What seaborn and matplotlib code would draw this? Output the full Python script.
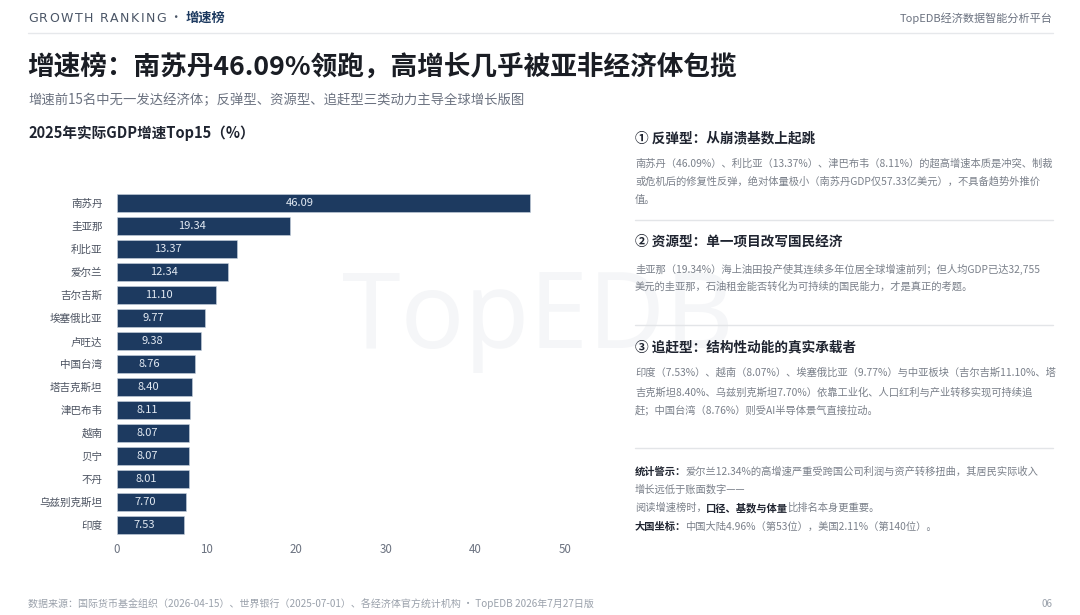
import matplotlib
matplotlib.use("Agg")
import matplotlib.pyplot as plt
import seaborn as sns
import pandas as pd
from matplotlib.lines import Line2D

# ---------------- data ----------------
countries = ["南苏丹", "圭亚那", "利比亚", "爱尔兰", "吉尔吉斯", "埃塞俄比亚", "卢旺达", "中国台湾",
             "塔吉克斯坦", "津巴布韦", "越南", "贝宁", "不丹", "乌兹别克斯坦", "印度"]
growth = [46.09, 19.34, 13.37, 12.34, 11.10, 9.77, 9.38, 8.76, 8.40, 8.11, 8.07, 8.07, 8.01, 7.70, 7.53]
x_ticks = [0, 10, 20, 30, 40, 50]

header_left = "GROWTH RANKING"
header_cn = "增速榜"
header_right = "TopEDB经济数据智能分析平台"
title = "增速榜：南苏丹46.09%领跑，高增长几乎被亚非经济体包揽"
subtitle = "增速前15名中无一发达经济体；反弹型、资源型、追赶型三类动力主导全球增长版图"
chart_title = "2025年实际GDP增速Top15（%）"
footer = "数据来源：国际货币基金组织（2026-04-15）、世界银行（2025-07-01）、各经济体官方统计机构 · TopEDB 2026年7月27日版"
page_no = "06"

sec1_head = "① 反弹型：从崩溃基数上起跳"
sec1_body = ["南苏丹（46.09%）、利比亚（13.37%）、津巴布韦（8.11%）的超高增速本质是冲突、制裁",
             "或危机后的修复性反弹，绝对体量极小（南苏丹GDP仅57.33亿美元），不具备趋势外推价",
             "值。"]
sec2_head = "② 资源型：单一项目改写国民经济"
sec2_body = ["圭亚那（19.34%）海上油田投产使其连续多年位居全球增速前列；但人均GDP已达32,755",
             "美元的圭亚那，石油租金能否转化为可持续的国民能力，才是真正的考题。"]
sec3_head = "③ 追赶型：结构性动能的真实承载者"
sec3_body = ["印度（7.53%）、越南（8.07%）、埃塞俄比亚（9.77%）与中亚板块（吉尔吉斯11.10%、塔",
             "吉克斯坦8.40%、乌兹别克斯坦7.70%）依靠工业化、人口红利与产业转移实现可持续追",
             "赶；中国台湾（8.76%）则受AI半导体景气直接拉动。"]
note_lines = [
    [("统计警示：", "b"), ("爱尔兰12.34%的高增速严重受跨国公司利润与资产转移扭曲，其居民实际收入", "n")],
    [("增长远低于账面数字——", "n")],
    [("阅读增速榜时，", "n"), ("口径、基数与体量", "b"), ("比排名本身更重要。", "n")],
    [("大国坐标：", "b"), ("中国大陆4.96%（第53位），美国2.11%（第140位）。", "n")],
]

# ---------------- style ----------------
sns.set_theme(style="white")
FAM = ["Noto Sans CJK SC", "DejaVu Sans"]
plt.rcParams["font.family"] = FAM

W, H = 1080, 615
NAVY = "#1d3a60"
DARK = "#1f2430"
GRAY = "#6b7280"
BODY = "#7a808a"
LGRAY = "#9aa1ab"

fig = plt.figure(figsize=(W / 100, H / 100), dpi=100, facecolor="white")
renderer = fig.canvas.get_renderer()


def fx(px):
    return px / W


def fy(py):
    return 1 - py / H


def text_px(x, y, s, **kw):
    kw.setdefault("va", "center")
    return fig.text(fx(x), fy(y), s, **kw)


def runs(x, y, parts, size, normal_color, bold_color):
    cx = x
    for s, style in parts:
        if style == "b":
            t = text_px(cx, y, s, fontsize=size, color=bold_color, fontweight="bold")
        else:
            t = text_px(cx, y, s, fontsize=size, color=normal_color)
        cx += t.get_window_extent(renderer).width - 1


def spaced(x, y, s, size, color, spacing, **kw):
    cx = x
    for ch in s:
        t = text_px(cx, y, ch, fontsize=size, color=color, **kw)
        w = t.get_window_extent(renderer).width
        if ch == " ":
            w = size * 0.35
        cx += w + spacing
    return cx


# watermark
fig.text(fx(538), fy(348), "TopEDB", fontsize=76, color="#f5f6f8", ha="center", va="baseline",
         family=["Noto Sans", "DejaVu Sans"], fontweight="light", zorder=-5)

# header
spaced(28, 18, header_left, 9, "#4a5566", 1.5, family=["DejaVu Sans"])
text_px(175, 18, "·", fontsize=9, color="#4a5566", ha="center")
text_px(186, 18, header_cn, fontsize=9.5, color=NAVY, fontweight="bold")
text_px(1053, 18, header_right, fontsize=8, color=GRAY, ha="right")
fig.add_artist(Line2D([fx(28), fx(1053)], [fy(33), fy(33)], color="#e6e8eb", lw=1))

# titles
text_px(27, 67, title, fontsize=19.2, color="#1a1d24", fontweight="bold")
text_px(28, 100, subtitle, fontsize=9.6, color=GRAY)
text_px(28, 133, chart_title, fontsize=10.5, color=DARK, fontweight="semibold")

# ---------------- bar chart ----------------
ax_left, ax_right = 117, 565
ax_top, ax_bot = 191.5, 536.5
ax = fig.add_axes([fx(ax_left), fy(ax_bot), fx(ax_right - ax_left), (ax_bot - ax_top) / H])
ax.patch.set_alpha(0)

df = pd.DataFrame({"country": countries, "growth": growth})
sns.barplot(data=df, x="growth", y="country", orient="h", color=NAVY, width=0.78,
            saturation=1, edgecolor="#c9d3de", linewidth=0.4, ax=ax)
ax.set_xlim(0, 50)
ax.set_ylim(len(countries) - 0.5, -0.5)
ax.set_xticks(x_ticks)
ax.set_xticklabels([str(v) for v in x_ticks])
ax.set_xlabel("")
ax.set_ylabel("")
for s in ax.spines.values():
    s.set_visible(False)
ax.tick_params(axis="y", length=0, pad=10.5, labelsize=7.6, labelcolor="#4b5260")
ax.tick_params(axis="x", length=0, pad=5, labelsize=8.3, labelcolor="#6b7280")
ax.grid(False)

for i, v in enumerate(growth):
    ax.text(v * 0.45 - 0.3, i, f"{v:.2f}", ha="center", va="center", fontsize=8,
            color="#e3eaf3", fontweight="medium")

# ---------------- right panel ----------------
RX = 635
HS = 9.8
BS = 7.4


def sep(y):
    fig.add_artist(Line2D([fx(RX), fx(1053)], [fy(y), fy(y)], color="#e3e5e8", lw=1))


text_px(RX, 138, sec1_head, fontsize=HS, color=DARK, fontweight="bold")
for y, line in zip([164, 182, 200], sec1_body):
    text_px(RX, y, line, fontsize=BS, color=BODY)
sep(220)
text_px(RX, 242, sec2_head, fontsize=HS, color=DARK, fontweight="bold")
for y, line in zip([269, 287], sec2_body):
    text_px(RX, y, line, fontsize=BS, color=BODY)
sep(325)
text_px(RX, 347, sec3_head, fontsize=HS, color=DARK, fontweight="bold")
for y, line in zip([373, 392, 410], sec3_body):
    text_px(RX, y, line, fontsize=BS, color=BODY)
sep(448)
for y, parts in zip([472, 490, 508, 527], note_lines):
    runs(RX, y, parts, BS, BODY, DARK)

# footer
text_px(28, 604, footer, fontsize=7.2, color=LGRAY)
text_px(1053, 604, page_no, fontsize=7.2, color=LGRAY, ha="right")

fig.savefig("out.png", dpi=100, facecolor="white")
